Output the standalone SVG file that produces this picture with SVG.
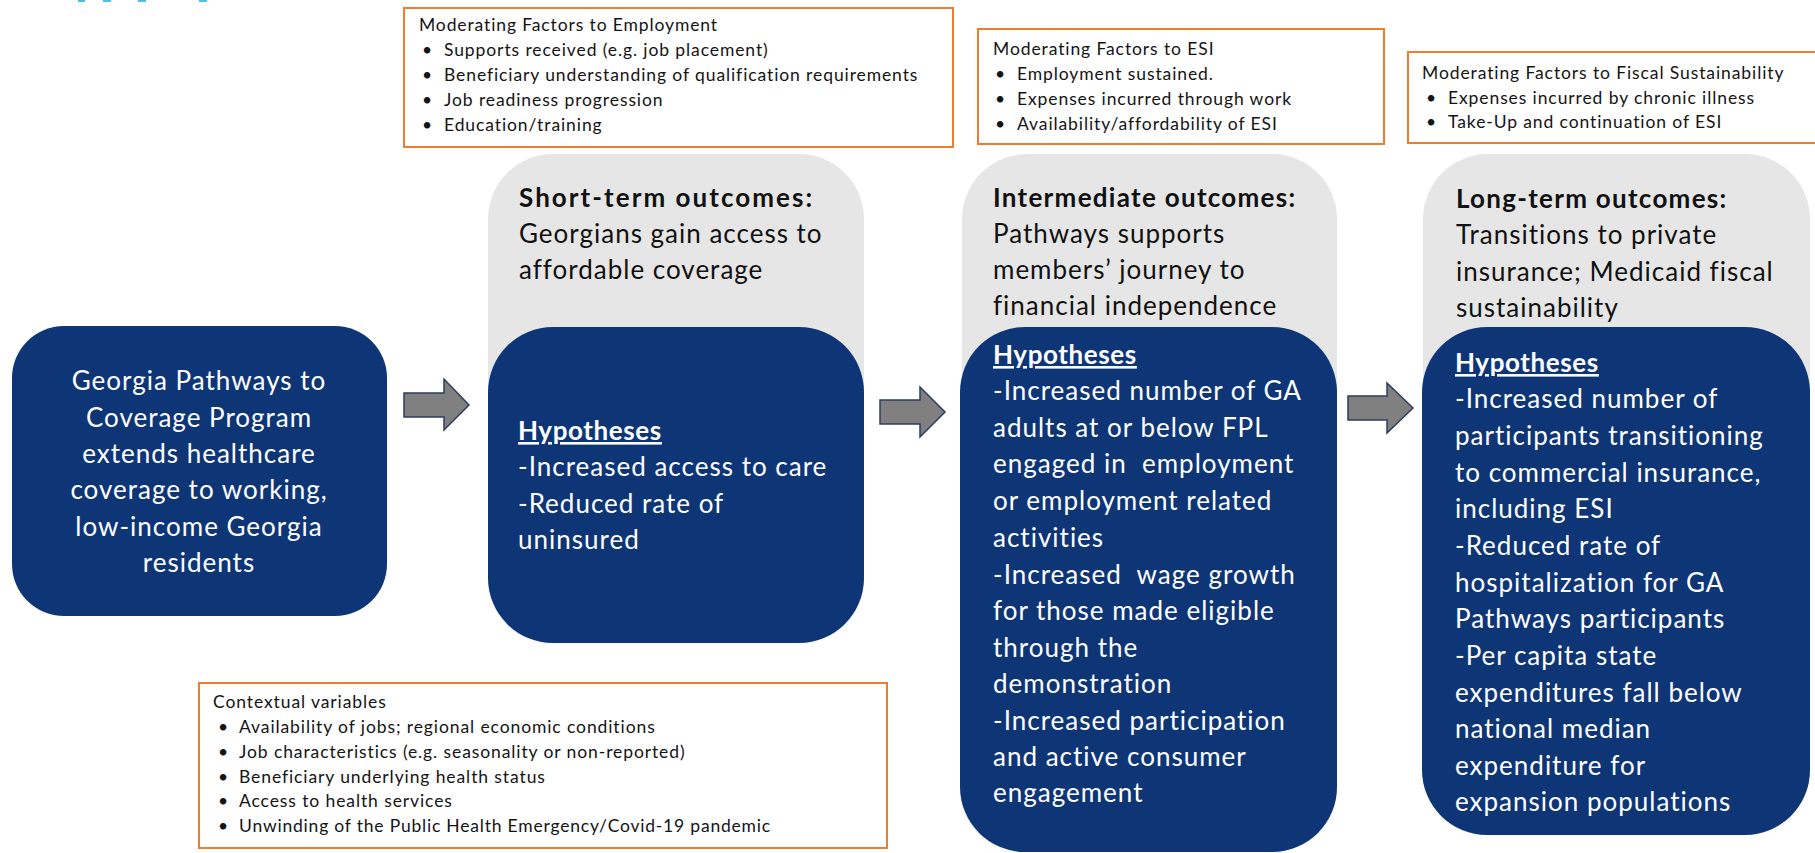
<svg xmlns="http://www.w3.org/2000/svg" width="1815" height="853" viewBox="0 0 1815 853">
  <style>
    .note { fill: #ffffff; stroke: #ED7D31; stroke-width: 2; }
    .note-text { font-family: Lato, "Liberation Sans", sans-serif; font-size: 17.5px; fill: #141414; letter-spacing: 0.9px; }
    .band { fill: #E6E6E6; }
    .core { fill: #0E3677; }
    .head { font-family: Lato, "Liberation Sans", sans-serif; font-size: 26px; font-weight: bold; fill: #111111; letter-spacing: 0.8px; }
    .sub { font-family: Lato, "Liberation Sans", sans-serif; font-size: 26px; fill: #111111; letter-spacing: 1px; }
    .body { font-family: Lato, "Liberation Sans", sans-serif; font-size: 26px; fill: #ffffff; letter-spacing: 1px; }
    .hyp { font-weight: bold; text-decoration: underline; letter-spacing: 0.6px; }
    .pre { white-space: pre; }
    .arrow { fill: #808080; stroke: #2E3D5C; stroke-width: 1.5; stroke-linejoin: miter; }
    .trace { fill: #4BC0E4; }
  </style>

  <!-- clipped heading remnants along the top edge -->
  <g id="heading-trace">
    <rect class="trace" x="78" y="0" width="7" height="2"/>
    <rect class="trace" x="103" y="0" width="8" height="2"/>
    <rect class="trace" x="138" y="0" width="8" height="2"/>
    <rect class="trace" x="199" y="0" width="8" height="2"/>
  </g>

  <!-- moderating factor notes -->
  <g id="note-employment">
    <rect class="note" x="404" y="8" width="549" height="139"/>
    <text class="note-text" x="419" y="31" textLength="299" lengthAdjust="spacing">Moderating Factors to Employment</text>
    <text class="note-text" x="422" y="56">•</text><text class="note-text" x="444" y="56">Supports received (e.g. job placement)</text>
    <text class="note-text" x="422" y="81">•</text><text class="note-text" x="444" y="81">Beneficiary understanding of qualification requirements</text>
    <text class="note-text" x="422" y="106">•</text><text class="note-text" x="444" y="106">Job readiness progression</text>
    <text class="note-text" x="422" y="131">•</text><text class="note-text" x="444" y="131">Education/training</text>
  </g>

  <g id="note-esi">
    <rect class="note" x="978" y="29" width="406" height="115"/>
    <text class="note-text" x="993" y="55">Moderating Factors to ESI</text>
    <text class="note-text" x="995" y="80">•</text><text class="note-text" x="1017" y="80">Employment sustained.</text>
    <text class="note-text" x="995" y="105">•</text><text class="note-text" x="1017" y="105">Expenses incurred through work</text>
    <text class="note-text" x="995" y="130">•</text><text class="note-text" x="1017" y="130">Availability/affordability of ESI</text>
  </g>

  <g id="note-fiscal">
    <rect class="note" x="1408" y="52" width="420" height="91"/>
    <text class="note-text" x="1422" y="79">Moderating Factors to Fiscal Sustainability</text>
    <text class="note-text" x="1426" y="104">•</text><text class="note-text" x="1448" y="104">Expenses incurred by chronic illness</text>
    <text class="note-text" x="1426" y="128">•</text><text class="note-text" x="1448" y="128">Take-Up and continuation of ESI</text>
  </g>

  <g id="note-context">
    <rect class="note" x="199" y="683" width="688" height="165"/>
    <text class="note-text" x="213" y="708">Contextual variables</text>
    <text class="note-text" x="218" y="733">•</text><text class="note-text" x="239" y="733">Availability of jobs; regional economic conditions</text>
    <text class="note-text" x="218" y="758">•</text><text class="note-text" x="239" y="758">Job characteristics (e.g. seasonality or non-reported)</text>
    <text class="note-text" x="218" y="783">•</text><text class="note-text" x="239" y="783">Beneficiary underlying health status</text>
    <text class="note-text" x="218" y="807">•</text><text class="note-text" x="239" y="807">Access to health services</text>
    <text class="note-text" x="218" y="832">•</text><text class="note-text" x="239" y="832" textLength="532" lengthAdjust="spacing">Unwinding of the Public Health Emergency/Covid-19 pandemic</text>
  </g>

  <!-- program input -->
  <g id="program">
    <rect class="core" x="12" y="326" width="375" height="290" rx="52" ry="52"/>
    <g class="body" text-anchor="middle">
      <text x="199" y="390">Georgia Pathways to</text>
      <text x="199" y="427">Coverage Program</text>
      <text x="199" y="463">extends healthcare</text>
      <text x="199" y="499">coverage to working,</text>
      <text x="199" y="536">low-income Georgia</text>
      <text x="199" y="572">residents</text>
    </g>
  </g>

  <!-- short-term outcomes -->
  <g id="short-term">
    <rect class="band" x="488" y="154" width="376" height="489" rx="65" ry="65"/>
    <rect class="core" x="488" y="327" width="376" height="316" rx="65" ry="65"/>
    <text class="head" x="519" y="207" textLength="294" lengthAdjust="spacing">Short-term outcomes:</text>
    <text class="sub" x="519" y="243">Georgians gain access to</text>
    <text class="sub" x="519" y="279">affordable coverage</text>
    <g class="body">
      <text class="hyp" x="518" y="440">Hypotheses</text>
      <text x="518" y="476">-Increased access to care</text>
      <text x="518" y="513">-Reduced rate of</text>
      <text x="518" y="549">uninsured</text>
    </g>
  </g>

  <!-- intermediate outcomes -->
  <g id="intermediate">
    <rect class="band" x="962" y="154" width="375" height="698" rx="65" ry="65"/>
    <rect class="core" x="960" y="327" width="377" height="525" rx="65" ry="65"/>
    <text class="head" x="993" y="207" textLength="303" lengthAdjust="spacing">Intermediate outcomes:</text>
    <text class="sub" x="993" y="243">Pathways supports</text>
    <text class="sub" x="993" y="279">members’ journey to</text>
    <text class="sub" x="993" y="315">financial independence</text>
    <g class="body">
      <text class="hyp" x="993" y="364">Hypotheses</text>
      <text x="993" y="400">-Increased number of GA</text>
      <text x="993" y="437">adults at or below FPL</text>
      <text class="pre" x="993" y="473">engaged in  employment</text>
      <text x="993" y="510">or employment related</text>
      <text x="993" y="547">activities</text>
      <text class="pre" x="993" y="584">-Increased  wage growth</text>
      <text x="993" y="620">for those made eligible</text>
      <text x="993" y="657">through the</text>
      <text x="993" y="693">demonstration</text>
      <text x="993" y="730">-Increased participation</text>
      <text x="993" y="766">and active consumer</text>
      <text x="993" y="802">engagement</text>
    </g>
  </g>

  <!-- long-term outcomes -->
  <g id="long-term">
    <rect class="band" x="1423" y="154" width="387" height="681" rx="65" ry="65"/>
    <rect class="core" x="1422" y="327" width="388" height="508" rx="65" ry="65"/>
    <text class="head" x="1456" y="208" textLength="271" lengthAdjust="spacing">Long-term outcomes:</text>
    <text class="sub" x="1456" y="244">Transitions to private</text>
    <text class="sub" x="1456" y="281">insurance; Medicaid fiscal</text>
    <text class="sub" x="1456" y="317">sustainability</text>
    <g class="body">
      <text class="hyp" x="1455" y="372">Hypotheses</text>
      <text x="1455" y="408">-Increased number of</text>
      <text x="1455" y="445">participants transitioning</text>
      <text x="1455" y="482">to commercial insurance,</text>
      <text x="1455" y="518">including ESI</text>
      <text x="1455" y="555">-Reduced rate of</text>
      <text x="1455" y="592">hospitalization for GA</text>
      <text x="1455" y="628">Pathways participants</text>
      <text x="1455" y="665">-Per capita state</text>
      <text x="1455" y="702">expenditures fall below</text>
      <text x="1455" y="738">national median</text>
      <text x="1455" y="775">expenditure for</text>
      <text x="1455" y="811">expansion populations</text>
    </g>
  </g>

  <!-- block arrows between stages -->
  <g id="connectors">
    <path class="arrow" d="M404,393 H444 V379 L469,405 L444,430 V417 H404 Z"/>
    <path class="arrow" d="M880,400 H920 V387 L945,412 L920,437 V424 H880 Z"/>
    <path class="arrow" d="M1348,396 H1387 V383 L1413,408 L1387,433 V420 H1348 Z"/>
  </g>
</svg>
